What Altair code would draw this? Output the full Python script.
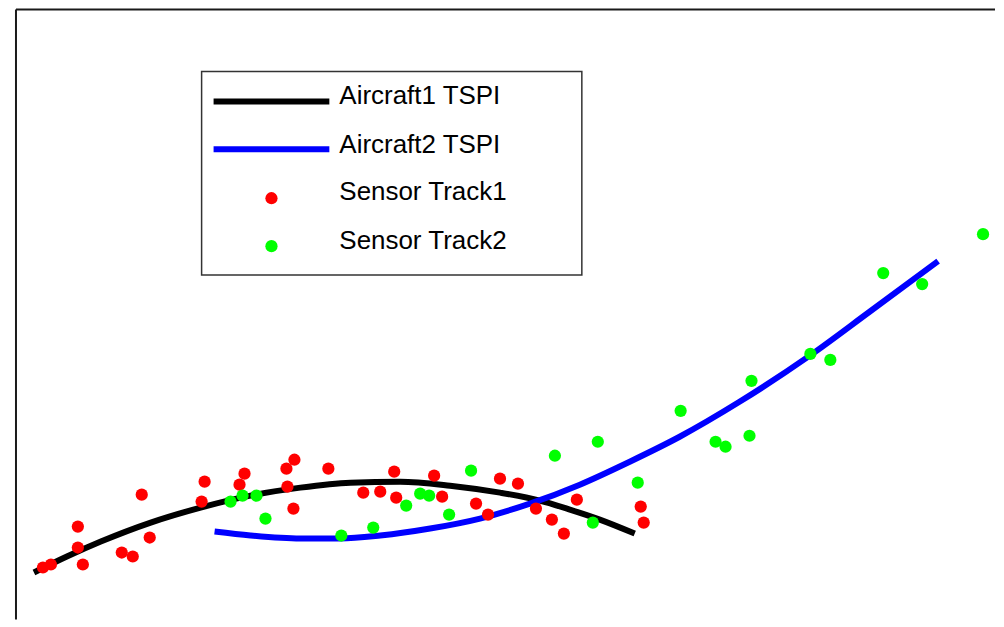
import altair as alt
import pandas as pd

# ---- data (x, y in chart units) ----
aircraft1_x = [0.18, 0.51, 0.85, 1.35, 1.85, 2.35, 2.85, 3.35, 3.85, 4.35, 4.85, 5.25, 5.55, 5.85, 6.20]
aircraft1_y = [0.76, 0.92, 1.07, 1.26, 1.41, 1.53, 1.61, 1.66, 1.67, 1.63, 1.56, 1.48, 1.39, 1.29, 1.15]

aircraft2_x = [1.99, 2.35, 2.85, 3.25, 3.65, 4.15, 4.65, 5.15, 5.65, 6.15, 6.65, 7.25, 7.95, 8.55, 9.24]
aircraft2_y = [1.17, 1.13, 1.10, 1.10, 1.13, 1.20, 1.30, 1.45, 1.64, 1.87, 2.12, 2.47, 2.93, 3.37, 3.88]

track1_x = [0.27, 0.35, 0.62, 0.62, 0.67, 1.26, 1.06, 1.17, 1.34, 1.89, 1.86, 2.29, 2.24, 2.71, 2.79, 2.72, 2.78,
            3.13, 3.79, 3.48, 3.65, 3.81, 4.19, 4.27, 4.61, 4.73, 4.85, 5.03, 5.21, 5.37, 5.49, 5.62, 6.26, 6.29]
track1_y = [0.81, 0.84, 1.22, 1.01, 0.84, 1.54, 0.96, 0.92, 1.11, 1.67, 1.47, 1.75, 1.64, 1.80, 1.89, 1.62, 1.40,
            1.80, 1.77, 1.56, 1.57, 1.51, 1.73, 1.52, 1.45, 1.34, 1.70, 1.65, 1.40, 1.29, 1.15, 1.49, 1.42, 1.26]

track2_x = [2.15, 2.27, 2.41, 2.50, 3.26, 3.58, 3.91, 4.05, 4.14, 4.34, 4.56, 5.40, 5.83, 6.23, 5.78, 6.66,
            7.01, 7.11, 7.35, 7.37, 7.96, 8.16, 8.69, 9.08, 9.69]
track2_y = [1.47, 1.53, 1.53, 1.30, 1.13, 1.21, 1.43, 1.55, 1.53, 1.34, 1.78, 1.93, 2.07, 1.66, 1.26, 2.38,
            2.07, 2.02, 2.13, 2.68, 2.95, 2.89, 3.76, 3.65, 4.15]

labels = ["Aircraft1 TSPI", "Aircraft2 TSPI", "Sensor Track1", "Sensor Track2"]
colors = ["#000000", "#0000ff", "#ff0000", "#00ff00"]

W, H = 981, 611
xs = alt.Scale(domain=[0, 9.81], nice=False, zero=False)
ys = alt.Scale(domain=[0.29, 6.4], nice=False, zero=False)

def line_layer(xv, yv, color):
    df = pd.DataFrame({"x": xv, "y": yv})
    return alt.Chart(df).mark_line(color=color, strokeWidth=6, strokeCap="butt",
                                   interpolate="monotone").encode(
        x=alt.X("x:Q", scale=xs, axis=None),
        y=alt.Y("y:Q", scale=ys, axis=None),
        order="x:Q",
    )

def point_layer(xv, yv, color):
    df = pd.DataFrame({"x": xv, "y": yv})
    return alt.Chart(df).mark_circle(color=color, size=150, opacity=1).encode(
        x=alt.X("x:Q", scale=xs, axis=None),
        y=alt.Y("y:Q", scale=ys, axis=None),
    )

one = pd.DataFrame({"a": [0]})
frame_col = "#1a1a1a"
frame_top = alt.Chart(one).mark_rule(color=frame_col, strokeWidth=2).encode(
    x=alt.value(0), x2=alt.value(W), y=alt.value(0))
frame_left = alt.Chart(one).mark_rule(color=frame_col, strokeWidth=2).encode(
    x=alt.value(0), y=alt.value(0), y2=alt.value(H))

# ---- legend ----
leg_box = alt.Chart(one).mark_rect(fill="white", stroke="#333333", strokeWidth=1.5).encode(
    x=alt.value(186), x2=alt.value(567), y=alt.value(62), y2=alt.value(266))
leg_parts = [leg_box]
line_ys = [92, 140]
for i in range(2):
    leg_parts.append(alt.Chart(one).mark_rule(color=colors[i], strokeWidth=6, strokeCap="butt").encode(
        x=alt.value(198), x2=alt.value(314), y=alt.value(line_ys[i])))
dot_ys = [189, 237]
for i in range(2):
    leg_parts.append(alt.Chart(one).mark_circle(color=colors[i + 2], size=150, opacity=1).encode(
        x=alt.value(256), y=alt.value(dot_ys[i])))
text_ys = [95, 144, 191, 240]
for i in range(4):
    leg_parts.append(alt.Chart(one).mark_text(align="left", baseline="alphabetic",
                                              font="Liberation Sans", fontSize=26, color="black").encode(
        x=alt.value(324), y=alt.value(text_ys[i]), text=alt.value(labels[i])))

chart = alt.layer(
    frame_top, frame_left,
    line_layer(aircraft1_x, aircraft1_y, colors[0]),
    line_layer(aircraft2_x, aircraft2_y, colors[1]),
    point_layer(track1_x, track1_y, colors[2]),
    point_layer(track2_x, track2_y, colors[3]),
    *leg_parts,
).properties(
    width=W, height=H,
    padding={"left": 7, "top": 0, "right": 0, "bottom": 0},
    background="white",
).configure_view(stroke=None)

chart.save("out.html", embed_options={"renderer": "svg", "actions": False})
